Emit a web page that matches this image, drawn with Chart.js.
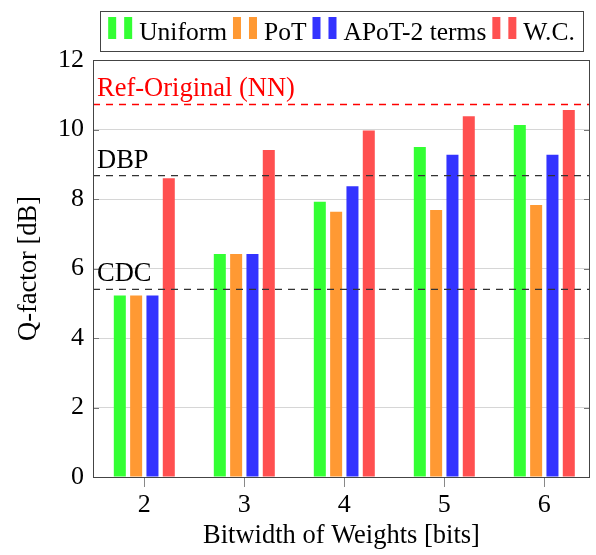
<!DOCTYPE html>
<html>
<head>
<meta charset="utf-8">
<script src="https://cdn.jsdelivr.net/npm/chart.js@4"></script>
<style>
  body { margin: 0; background: #fff; }
</style>
</head>
<body>
<canvas id="qChart" width="596" height="555"></canvas>
<script>
// values
const bitwidths = [2, 3, 4, 5, 6];
const seriesNames = ['Uniform', 'PoT', 'APoT-2 terms', 'W.C.'];
const uniformQ = [5.22, 6.42, 7.92, 9.50, 10.13];
const potQ = [5.22, 6.42, 7.63, 7.68, 7.83];
const apotQ = [5.22, 6.42, 8.37, 9.27, 9.27];
const wcQ = [8.60, 9.41, 9.97, 10.38, 10.56];
const yTicks = [0, 2, 4, 6, 8, 10, 12];
const refNames = ['Ref-Original (NN)', 'DBP', 'CDC'];
const refQ = [10.72, 8.67, 5.40];

const colors = ['#33ff33', '#ff9933', '#3333ff', '#ff5050'];
const refColors = ['#ff0000', '#333333', '#333333'];
const refTextColors = ['#ff0000', '#000000', '#000000'];
const serif = "'Liberation Serif', 'Times New Roman', serif";
const xMin = 1.487, xMax = 6.457;

const toPoints = vals => vals.map((v, i) => ({x: bitwidths[i], y: v}));

const barSets = [uniformQ, potQ, apotQ, wcQ].map((vals, i) => ({
    type: 'bar',
    label: seriesNames[i],
    data: toPoints(vals),
    backgroundColor: colors[i],
    categoryPercentage: 0.653,
    barPercentage: 0.736,
    order: 1
}));

const refSets = refQ.map((v, i) => ({
    type: 'line',
    label: refNames[i],
    data: [{x: xMin, y: v}, {x: xMax, y: v}],
    borderColor: refColors[i],
    borderWidth: i === 0 ? 1.6 : 1.2,
    borderDash: [7, 6],
    pointRadius: 0,
    order: 0
}));

// legend with the double-bar icons and a box round it
const boxLegend = {
    id: 'boxLegend',
    afterDraw(chart) {
        const ctx = chart.ctx, area = chart.chartArea;
        const items = chart.data.datasets.filter(d => d.type === 'bar');
        ctx.save();
        ctx.font = '25.5px ' + serif;
        const iconW = 24, gapText = 7, gapItem = 6, pad = 8;
        const widths = items.map(d => ctx.measureText(d.label).width);
        const total = widths.reduce((a, w) => a + iconW + gapText + w, 0) + gapItem * (items.length - 1);
        let x = (area.left + area.right) / 2 - total / 2;
        ctx.strokeStyle = '#444';
        ctx.lineWidth = 1;
        ctx.strokeRect(Math.round(x - pad) + 0.5, 11.5, Math.round(total + 2 * pad), 40);
        ctx.textBaseline = 'alphabetic';
        items.forEach((d, i) => {
            ctx.fillStyle = d.backgroundColor;
            ctx.fillRect(x, 17, 8, 22);
            ctx.fillRect(x + 16, 17, 8, 22);
            x += iconW + gapText;
            ctx.fillStyle = '#000';
            ctx.fillText(d.label, x, 40);
            x += widths[i] + gapItem;
        });
        ctx.restore();
    }
};

// axis frame, inner y tick marks and the reference-line captions
const frameAndRefs = {
    id: 'frameAndRefs',
    afterDatasetsDraw(chart) {
        const ctx = chart.ctx, a = chart.chartArea, ys = chart.scales.y;
        ctx.save();
        ctx.strokeStyle = '#777';
        ctx.lineWidth = 1;
        yTicks.slice(1, -1).forEach(t => {
            const py = Math.round(ys.getPixelForValue(t)) + 0.5;
            ctx.beginPath();
            ctx.moveTo(a.left, py); ctx.lineTo(a.left + 6, py);
            ctx.moveTo(a.right - 6, py); ctx.lineTo(a.right, py);
            ctx.stroke();
        });
        ctx.strokeStyle = '#444';
        ctx.strokeRect(Math.round(a.left) + 0.5, Math.round(a.top) + 0.5,
            Math.round(a.right - a.left) - 1, Math.round(a.bottom - a.top));
        ctx.font = '26.5px ' + serif;
        ctx.textBaseline = 'alphabetic';
        refNames.forEach((name, i) => {
            ctx.fillStyle = refTextColors[i];
            ctx.fillText(name, a.left + 4, ys.getPixelForValue(refQ[i]) - 8);
        });
        ctx.restore();
    }
};

new Chart(document.getElementById('qChart'), {
    type: 'bar',
    data: { datasets: [...barSets, ...refSets] },
    options: {
        responsive: false,
        animation: false,
        layout: { padding: { top: 60, right: 6, left: 0, bottom: 0 } },
        plugins: { legend: { display: false }, tooltip: { enabled: false } },
        scales: {
            x: {
                type: 'linear',
                min: xMin,
                max: xMax,
                offset: false,
                grid: { offset: false, drawOnChartArea: false, tickLength: 10, color: '#888' },
                border: { display: false },
                afterBuildTicks: axis => { axis.ticks = bitwidths.map(v => ({ value: v })); },
                afterFit: axis => { axis.height = 78; },
                ticks: { color: '#000', font: { family: serif, size: 26 }, padding: 3 },
                title: {
                    display: true, text: 'Bitwidth of Weights [bits]', color: '#000',
                    font: { family: serif, size: 26.5 }, padding: { top: 0, bottom: 3 }
                }
            },
            y: {
                min: 0,
                max: 12,
                afterBuildTicks: axis => { axis.ticks = yTicks.map(v => ({ value: v })); },
                afterFit: axis => { axis.width = 93; },
                grid: { color: '#d6d6d6', drawTicks: false },
                border: { display: false },
                ticks: { color: '#000', font: { family: serif, size: 26 }, padding: 9 },
                title: {
                    display: true, text: 'Q-factor [dB]', color: '#000',
                    font: { family: serif, size: 26.5 }, padding: { top: 13, bottom: 0 }
                }
            }
        }
    },
    plugins: [boxLegend, frameAndRefs]
});
</script>
</body>
</html>
